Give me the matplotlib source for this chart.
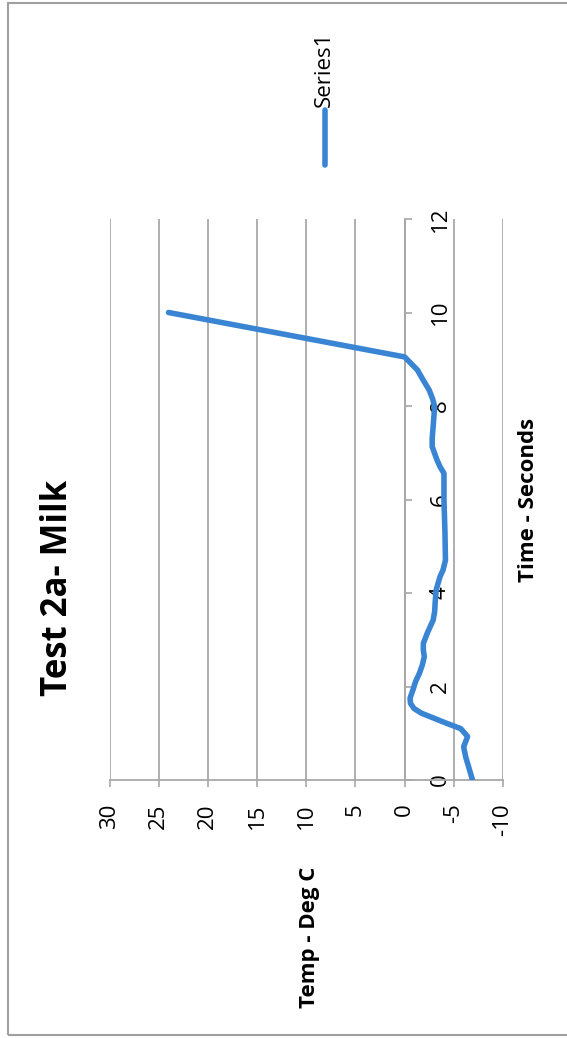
"""Freezing curve for test 2a (milk), drawn turned on its side."""

import matplotlib
matplotlib.use("Agg")
import matplotlib.pyplot as plt
from matplotlib.lines import Line2D
from matplotlib.patches import Rectangle

# Readings: time in seconds, temperature in deg C
time_s = [0, 0.5, 0.71, 0.93, 1.1, 1.21, 1.32, 1.43, 1.53, 1.64, 1.75, 1.93,
          2.1, 2.28, 2.46, 2.64, 2.78, 2.92, 3.14, 3.28, 3.42, 3.6, 3.78, 4.06,
          4.35, 4.49, 4.7, 5.3, 5.99, 6.56, 6.7, 6.84, 7.13, 7.3, 7.56, 7.98,
          8.15, 8.34, 8.55, 8.77, 8.9, 9.05, 10.0]
temp_c = [-6.9, -6.2, -6.0, -6.4, -5.7, -4.3, -3.0, -1.7, -0.95, -0.6, -0.55, -0.85,
          -1.1, -1.5, -1.8, -2.0, -1.9, -1.9, -2.3, -2.6, -2.9, -3.05, -3.1, -3.2,
          -3.6, -3.9, -4.15, -4.1, -4.0, -4.0, -3.6, -3.3, -2.8, -2.8, -2.9, -3.05,
          -2.85, -2.5, -1.9, -1.3, -0.7, 0.0, 24.0]

temp_ticks = [30, 25, 20, 15, 10, 5, 0, -5, -10]
time_ticks = [0, 2, 4, 6, 8, 10, 12]

title = "Test 2a- Milk"
series_name = "Series1"

W, H = 567, 1038
LINE_BLUE = "#3a85d3"
GRID = "#a8a8a8"
TEXT = "#000000"

plt.rcParams["font.family"] = ["Open Sans", "DejaVu Sans"]

fig = plt.figure(figsize=(W / 100, H / 100), dpi=100)
fig.patch.set_facecolor("white")


def fx(px):
    return px / W


def fy(py):
    return 1 - py / H


# plot area: temperature runs right-to-left, time runs upward
left, right, top, bottom = 109.5, 503, 219, 780
ax = fig.add_axes([fx(left), fy(bottom), fx(right) - fx(left), fy(top) - fy(bottom)])
ax.set_xlim(30, -10)
ax.set_ylim(0, 12)

ax.plot(temp_c, time_s, color=LINE_BLUE, lw=4.0,
        solid_capstyle="round", solid_joinstyle="round", zorder=3)

ax.set_xticks(temp_ticks)
ax.set_xticklabels([str(t) for t in temp_ticks])
ax.xaxis.grid(True, color=GRID, lw=1.3)
ax.tick_params(axis="x", direction="out", length=5, width=1.2, color=GRID,
               labelrotation=90, labelsize=16, labelcolor=TEXT, pad=12)

# time axis sits on the 0 deg line
ax.spines["left"].set_visible(False)
ax.spines["top"].set_visible(False)
ax.spines["right"].set_position(("data", 0))
ax.spines["right"].set_color(GRID)
ax.spines["right"].set_linewidth(1.3)
ax.spines["bottom"].set_color(GRID)
ax.spines["bottom"].set_linewidth(1.3)
ax.yaxis.tick_right()
ax.set_yticks(time_ticks)
ax.set_yticklabels([str(t) for t in time_ticks])
ax.tick_params(axis="y", direction="out", length=5, width=1.2, color=GRID,
               labelrotation=90, labelsize=16, labelcolor=TEXT, pad=13)
for lab in ax.get_yticklabels():
    lab.set_va("center")

# titles
fig.text(fx(58), fy(588), title, rotation=90, ha="center", va="center",
         fontsize=25, fontweight="bold", color=TEXT)
fig.text(fx(528), fy(500), "Time - Seconds", rotation=90, ha="center", va="center",
         fontsize=16, fontweight="bold", color=TEXT)
fig.text(fx(309), fy(937), "Temp - Deg C", rotation=90, ha="center", va="center",
         fontsize=16, fontweight="bold", color=TEXT)

# legend
fig.add_artist(Line2D([fx(325), fx(325)], [fy(110), fy(165)], color=LINE_BLUE,
                      lw=4.0, solid_capstyle="round"))
fig.text(fx(324), fy(107), series_name, rotation=90, ha="center", va="bottom",
         fontsize=16, color=TEXT)

# chart frame
fig.add_artist(Rectangle((fx(8), fy(1035)), 1.0, fy(3) - fy(1035),
                         fill=False, edgecolor="#a0a0a0", lw=1.5))

fig.savefig("out.png", dpi=100, facecolor="white")
